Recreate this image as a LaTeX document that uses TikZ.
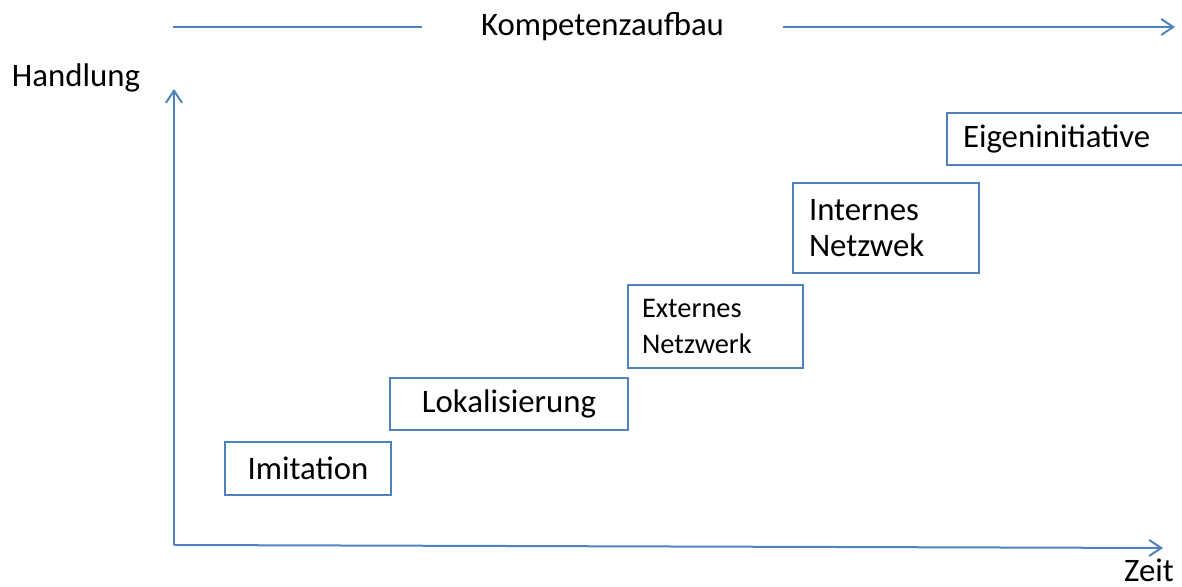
\documentclass[tikz,border=0pt]{standalone}
\usepackage{fontspec}
\setmainfont{Carlito}
\usetikzlibrary{arrows.meta}

\definecolor{officeblue}{RGB}{79,129,189}

\tikzset{
  axis/.style={color=officeblue, line width=1pt},
  axistip/.style={-{Straight Barb[length=6pt,width=8pt]}},
  stage/.style={draw=officeblue, line width=0.9pt, inner sep=0pt,
    font=\fontsize{16.4}{18}\selectfont},
  lbl/.style={font=\fontsize{16.4}{19.7}\selectfont, inner sep=0pt, anchor=base}
}

\begin{document}
\begin{tikzpicture}[x=0.5pt,y=0.5pt]

\useasboundingbox (0,0) rectangle (1182,587);
\clip (0,0) rectangle (1182,587);

%%%%%%%%%%%%%%%%%%%%%%%%%%%%%%%%%%%%%%%%%%%%
\coordinate (ks) at (173,560);
\coordinate (ke) at (1175,560);
\node[lbl, minimum width=180.5pt] (komp) at (602.5,551) {Kompetenzaufbau};

\draw[axis] (ks) to (ks -| komp.west);
\draw[axis,axistip] (ks -| komp.east) to (ke);

%%%%%%%%%%%%%%%%%%%%%%%%%%%%%%%%%%%%%%%%%%%%
\coordinate (origin) at (174,42);
\coordinate (ytop) at (174,498);
\coordinate (xend) at (1163,39);

\draw[axis,axistip] (origin) to (ytop);
\draw[axis,axistip] (origin) to (xend);

\node[lbl] (handlung) at (76,500) {Handlung};
\node[lbl] (zeit) at (1149,5) {Zeit};

%%%%%%%%%%%%%%%%%%%%%%%%%%%%%%%%%%%%%%%%%%%%
\node[stage, minimum width=83pt, minimum height=26.5pt] (imitation) at (308,118.5) {Imitation};
\node[stage, minimum width=119pt, minimum height=26pt] (lokal) at (509,183) {Lokalisierung};
\node[stage, minimum width=87.5pt, minimum height=41.5pt, text width=73.5pt, align=left,
  font=\fontsize{14.2}{18}\selectfont] (extern) at (715.5,260.5) {Externes\\Netzwerk};
\node[stage, minimum width=93pt, minimum height=45pt, text width=77pt, align=left] (intern) at (886,359) {Internes\\Netzwek};
\node[stage, minimum width=125pt, minimum height=26pt, text width=109pt, align=left] (eigen) at (1072,448) {Eigeninitiative};

\end{tikzpicture}
\end{document}
